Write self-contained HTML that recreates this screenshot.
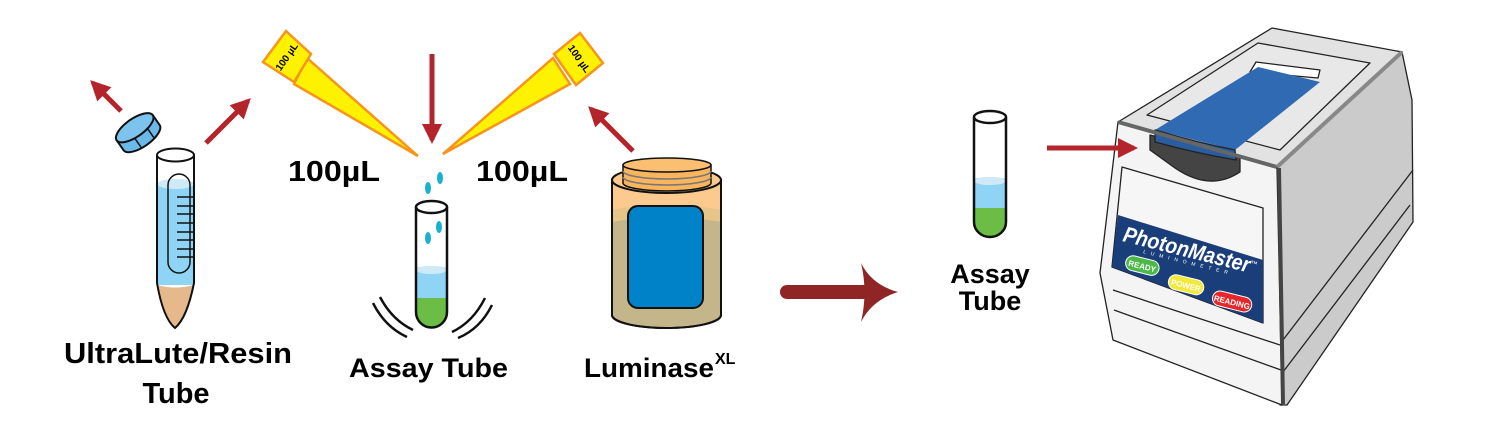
<!DOCTYPE html>
<html><head><meta charset="utf-8"><style>
html,body{margin:0;padding:0;background:#fff;width:1499px;height:424px;overflow:hidden}
svg{display:block}
text{font-family:"Liberation Sans",sans-serif}
</style></head><body>
<svg width="1499" height="424" viewBox="0 0 1499 424" xmlns="http://www.w3.org/2000/svg">
<defs>
<marker id="ah" viewBox="0 0 10 10" refX="8" refY="5" markerWidth="4" markerHeight="4" orient="auto" markerUnits="strokeWidth">
<path d="M0,0 L10,5 L0,10 z" fill="#b3242b"/></marker>
</defs>
<!-- cap -->
<g transform="translate(137,131) rotate(-35)">
<path d="M-22,-4 L-22,8 A22,9 0 0 0 22,8 L22,-4 Z" fill="#6bb9e8" stroke="#111" stroke-width="2"/>
<ellipse cx="0" cy="-4" rx="22" ry="9" fill="#7cc4ee" stroke="#111" stroke-width="2"/>
<line x1="-6" y1="4" x2="-6" y2="16" stroke="#111" stroke-width="1.5"/>
<line x1="10" y1="3" x2="10" y2="15" stroke="#111" stroke-width="1.5"/>
</g>
<!-- ultralute tube -->
<path d="M157,155 L157,283 Q163,318 175,328 Q187,318 194,283 L194,155 Z" fill="#fff"/>
<path d="M157,182 L157,285 L194,285 L194,182 Z" fill="#8fd3f5"/>
<ellipse cx="175.5" cy="184" rx="18.5" ry="5" fill="#cfeaf6"/>
<path d="M157,285 Q163,318 175,328 Q187,318 194,285 Q175,290 157,285 Z" fill="#e6b98c"/>
<rect x="168" y="174" width="22" height="99" rx="11" fill="none" stroke="#111" stroke-width="1.5"/>
<g stroke="#111" stroke-width="1.5">
<line x1="177" y1="197" x2="194" y2="197"/><line x1="177" y1="206" x2="194" y2="206"/>
<line x1="177" y1="214" x2="194" y2="214"/><line x1="177" y1="223" x2="194" y2="223"/>
<line x1="177" y1="232" x2="194" y2="232"/><line x1="177" y1="240" x2="194" y2="240"/>
<line x1="177" y1="249" x2="194" y2="249"/><line x1="177" y1="257" x2="194" y2="257"/>
</g>
<path d="M157,155 L157,283 Q163,318 175,328 Q187,318 194,283 L194,155" fill="none" stroke="#111" stroke-width="2"/>
<ellipse cx="175.5" cy="155" rx="18.5" ry="6.5" fill="#fff" stroke="#111" stroke-width="2"/>
<!-- pipette tips -->
<polygon points="294,84 307,58 418,156" fill="#fff200" stroke="#f7941d" stroke-width="2.5"/>
<polygon points="286,31 311,54 294,82 263,62" fill="#fff200" stroke="#f7941d" stroke-width="2.5"/>
<text x="287" y="60" font-size="10" font-weight="bold" text-anchor="middle" transform="rotate(-55 287 57)">100 µL</text>
<polygon points="553,58 570,84 443,154" fill="#fff200" stroke="#f7941d" stroke-width="2.5"/>
<polygon points="580,33 603,63 576,85 554,54" fill="#fff200" stroke="#f7941d" stroke-width="2.5"/>
<text x="579" y="62" font-size="10" font-weight="bold" text-anchor="middle" transform="rotate(55 579 59)">100 µL</text>
<text x="288" y="181" font-size="29" font-weight="bold" textLength="92" lengthAdjust="spacingAndGlyphs">100µL</text>
<text x="476" y="181" font-size="29" font-weight="bold" textLength="92" lengthAdjust="spacingAndGlyphs">100µL</text>
<!-- drops -->
<g fill="#1ab0d0"><ellipse cx="428" cy="188" rx="3" ry="6"/><ellipse cx="440" cy="178" rx="3" ry="6"/><ellipse cx="428" cy="238" rx="3" ry="6"/><ellipse cx="439" cy="227" rx="3" ry="6"/></g>
<!-- mid assay tube -->
<path d="M416,268 Q431,264 447,268 L447,298 L416,298 Z" fill="#8fd3f5"/>
<ellipse cx="431.5" cy="270" rx="15.5" ry="4" fill="#cfeaf6"/>
<path d="M416,298 L447,298 L447,312 A15.5,15.5 0 0 1 416,312 Z" fill="#6cbd45"/>
<path d="M416,207 L416,312 A15.5,15.5 0 0 0 447,312 L447,207" fill="none" stroke="#111" stroke-width="2.5"/>
<ellipse cx="431.5" cy="207" rx="15.5" ry="6" fill="#fff" stroke="#111" stroke-width="2.5"/>
<g fill="none" stroke="#111" stroke-width="2.5">
<path d="M373,303 Q385,327 407,337"/><path d="M380,297 Q392,320 413,330"/>
<path d="M492,305 Q480,329 458,338"/><path d="M485,298 Q473,322 452,332"/>
</g>
<!-- jar -->
<path d="M612,180 L612,315 A54.5,13 0 0 0 721,315 L721,180 Z" fill="#c4b68a" stroke="#111" stroke-width="2"/>
<path d="M612,180 L612,210 Q666,200 721,210 L721,180 Z" fill="#fcca8e"/>
<path d="M612,210 Q666,200 721,210 L721,222 Q666,212 612,222 Z" fill="#e7c488"/>
<path d="M612,180 L612,315 A54.5,13 0 0 0 721,315 L721,180" fill="none" stroke="#111" stroke-width="2"/>
<ellipse cx="666.5" cy="180" rx="54.5" ry="13" fill="#fcca8e" stroke="#111" stroke-width="2"/>
<path d="M623,165 L623,183 A44,8 0 0 0 711,183 L711,165 Z" fill="#f9b45e" stroke="#111" stroke-width="1.5"/>
<path d="M623,171 A44,8 0 0 0 711,171 M623,177 A44,8 0 0 0 711,177" fill="none" stroke="#777" stroke-width="1.5"/>
<ellipse cx="667" cy="165" rx="44" ry="7" fill="#fbbf72" stroke="#111" stroke-width="1.5"/>
<rect x="628" y="206" width="75" height="102" rx="10" fill="#0082c8" stroke="#111" stroke-width="2"/>
<!-- labels -->
<text x="64" y="363" font-size="29" font-weight="bold" textLength="228" lengthAdjust="spacingAndGlyphs">UltraLute/Resin</text>
<text x="176" y="403" font-size="29" font-weight="bold" text-anchor="middle">Tube</text>
<text x="349" y="377" font-size="27" font-weight="bold" textLength="159" lengthAdjust="spacingAndGlyphs">Assay Tube</text>
<text x="584" y="377" font-size="27" font-weight="bold" textLength="130" lengthAdjust="spacingAndGlyphs">Luminase</text>
<text x="715" y="364" font-size="16" font-weight="bold">XL</text>
<text x="990" y="283" font-size="27" font-weight="bold" text-anchor="middle">Assay</text>
<text x="990" y="310" font-size="27" font-weight="bold" text-anchor="middle">Tube</text>
<!-- big arrow -->
<line x1="787" y1="292" x2="866" y2="292" stroke="#8f2525" stroke-width="14" stroke-linecap="round"/>
<path d="M861,263 Q872,285 898,292 Q872,300 861,322 Q868,292 861,263 Z" fill="#8f2525"/>
<!-- right assay tube -->
<path d="M974,179 Q990,175 1006,179 L1006,208 L974,208 Z" fill="#8fd3f5"/>
<ellipse cx="990" cy="181" rx="16" ry="4" fill="#cfeaf6"/>
<path d="M974,208 L1006,208 L1006,222 A16,15 0 0 1 974,222 Z" fill="#6cbd45"/>
<path d="M974,117 L974,222 A16,15 0 0 0 1006,222 L1006,117" fill="none" stroke="#111" stroke-width="2.5"/>
<ellipse cx="990" cy="117" rx="16" ry="6" fill="#fff" stroke="#111" stroke-width="2.5"/>
<!-- device -->
<g stroke="#222" stroke-width="1.3" stroke-linejoin="round">
<polygon points="1277,167 1402,52 1412,100 1413,222 1287,405 1280,405" fill="#cbcbcb"/>
<polygon points="1118,122 1277,167 1282,405 1113,340 1100,273" fill="#f4f4f4"/>
<polygon points="1118,122 1272,28 1402,52 1277,167" fill="#e2e2e2"/>
<polygon points="1147,115 1258,43 1370,63 1280,150" fill="#e8e8e8"/>
<polygon points="1256,62 1320,70 1318,78 1250,72" fill="#fff"/>
<path d="M1150,135 L1240,158 L1240,172 Q1210,192 1175,168 L1150,150 Z" fill="#444"/>
<polygon points="1155,130 1258,67 1320,82 1235,150" fill="#2f6ab3" stroke="none"/>
<path d="M1155,130 Q1195,142 1235,150 L1236,160 Q1195,153 1155,142 Z" fill="#2a5d9f"/>
<polygon points="1122,167 1263,208 1263,323 1112,267" fill="#f6f6f6"/>
<polygon points="1118,215 1263,260 1263,323 1112,267" fill="#1a3e7a" stroke="none"/>
<line x1="1113" y1="290" x2="1280" y2="345"/>
<line x1="1114" y1="310" x2="1281" y2="370"/>
<line x1="1283" y1="340" x2="1413" y2="170"/>
<line x1="1283" y1="372" x2="1410" y2="205"/>
<line x1="1118" y1="122" x2="1277" y2="167" stroke-width="4" stroke="#666"/>
<line x1="1277" y1="167" x2="1402" y2="52" stroke-width="4" stroke="#888"/>
<line x1="1279" y1="168" x2="1283" y2="404" stroke-width="4" stroke="#444"/>
</g>
<text x="1122" y="241" font-size="22" font-weight="bold" font-style="italic" fill="#fff" transform="rotate(14 1122 241)" textLength="130" lengthAdjust="spacingAndGlyphs">PhotonMaster</text>
<text x="1250" y="265" font-size="7" fill="#fff" transform="rotate(14 1250 265)">™</text>
<text x="1143" y="253" font-size="5" fill="#fff" transform="rotate(14 1143 253)" letter-spacing="5">LUMINOMETER</text>
<g transform="rotate(14 1142 267)"><rect x="1125" y="258" width="34" height="15" rx="7.5" fill="#4cb848" stroke="#fff" stroke-width="1"/><text x="1142" y="269" font-size="8" font-weight="bold" fill="#fff" text-anchor="middle">READY</text></g>
<g transform="rotate(14 1185 285)"><rect x="1168" y="277" width="36" height="15" rx="7.5" fill="#f2e93a" stroke="#fff" stroke-width="1"/><text x="1186" y="288" font-size="8" font-weight="bold" fill="#fff" text-anchor="middle">POWER</text></g>
<g transform="rotate(14 1232 302)"><rect x="1212" y="294" width="40" height="15" rx="7.5" fill="#e8262a" stroke="#fff" stroke-width="1"/><text x="1232" y="305" font-size="8" font-weight="bold" fill="#fff" text-anchor="middle">READING</text></g>
<!-- red arrows on top -->
<g stroke="#b3242b" stroke-width="5" fill="none" marker-end="url(#ah)">
<line x1="121" y1="111" x2="93" y2="83"/>
<line x1="206" y1="143" x2="248" y2="101"/>
<line x1="432" y1="54" x2="432" y2="140"/>
<line x1="633" y1="151" x2="591" y2="109"/>
<line x1="1047" y1="148" x2="1134" y2="148"/>
</g>
</svg>
</body></html>
